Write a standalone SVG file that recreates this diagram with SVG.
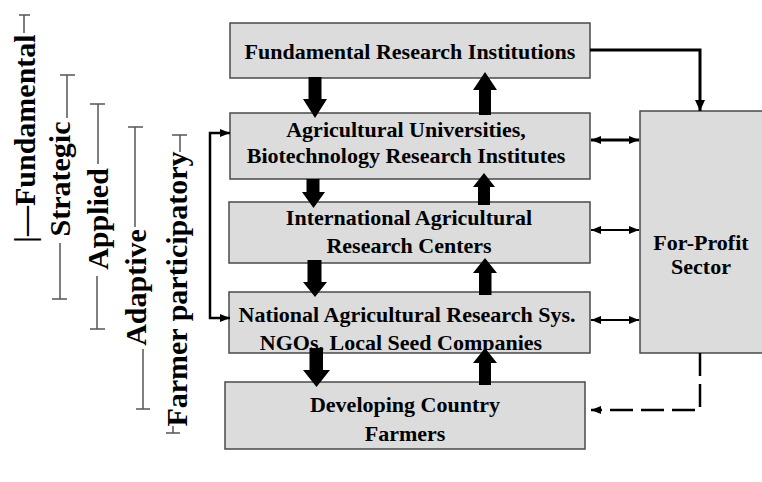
<svg xmlns="http://www.w3.org/2000/svg" width="762" height="482" viewBox="0 0 762 482">
<style>
.box{fill:#dcdcdc;stroke:#4a4a4a;stroke-width:1.5}
.t{font-family:"Liberation Serif","Times New Roman",serif;font-weight:bold;font-size:22px;fill:#000;text-anchor:middle}
.r{font-family:"Liberation Serif","Times New Roman",serif;font-weight:bold;font-size:30px;fill:#000;text-anchor:middle}
.thin{stroke:#555;stroke-width:1.5;fill:none}
.c{stroke:#000;fill:none}
.blk{fill:#000}
</style>
<defs>
<marker id="ah" markerUnits="userSpaceOnUse" markerWidth="12" markerHeight="10" refX="11" refY="5" orient="auto-start-reverse"><path d="M0,0 L11,5 L0,10 z" fill="#000"/></marker>
<marker id="ahs" markerUnits="userSpaceOnUse" markerWidth="11" markerHeight="8" refX="10" refY="4" orient="auto-start-reverse"><path d="M0,0 L10,4 L0,8 z" fill="#000"/></marker>
</defs>

<g id="scale-labels">
<text class="r" transform="translate(35,138.5) rotate(-90)">|—Fundamental</text>
<path class="thin" d="M19,15 H30 M24,15 V33"/>
<text class="r" transform="translate(70,179) rotate(-90)">Strategic</text>
<path class="thin" d="M60,75 H75 M67,75 V118 M60,243 V299 M52,299 H67"/>
<text class="r" transform="translate(108,219) rotate(-90)">Applied</text>
<path class="thin" d="M90,104 H105 M98,104 V164 M97,276 V329 M90,329 H105"/>
<text class="r" transform="translate(146,287.5) rotate(-90)">Adaptive</text>
<path class="thin" d="M128,127 H143 M135,127 V227 M143,349 V409 M136,409 H150"/>
<text class="r" transform="translate(187,289) rotate(-90)">Farmer participatory</text>
<path class="thin" d="M172,135 H187 M180,135 V152 M166,433 H180 M173,426 V433"/>
</g>

<g id="fundamental">
<rect class="box" x="230" y="23" width="360" height="55"/>
<text class="t" x="410" y="59">Fundamental Research Institutions</text>
</g>
<g id="universities">
<rect class="box" x="230" y="113" width="360" height="66"/>
<text class="t" x="406" y="137">Agricultural Universities,</text>
<text class="t" x="406" y="163">Biotechnology Research Institutes</text>
</g>
<g id="iarc">
<rect class="box" x="229" y="202" width="361" height="61"/>
<text class="t" x="409" y="225">International Agricultural</text>
<text class="t" x="409" y="253">Research Centers</text>
</g>
<g id="nars">
<rect class="box" x="229" y="292" width="361" height="61"/>
<text class="t" x="407" y="322">National Agricultural Research Sys.</text>
<text class="t" x="401" y="350">NGOs, Local Seed Companies</text>
</g>
<g id="farmers">
<rect class="box" x="225" y="382" width="360" height="67"/>
<text class="t" x="405" y="412">Developing Country</text>
<text class="t" x="405" y="441">Farmers</text>
</g>
<g id="forprofit">
<rect class="box" x="640" y="111" width="140" height="242"/>
<text class="t" x="701" y="250">For-Profit</text>
<text class="t" x="701" y="274">Sector</text>
</g>

<g id="connectors">
<polygon class="blk" points="308.5,77 321.5,77 321.5,99 327,99 315,118 303,99 308.5,99"/>
<polygon class="blk" points="479,115 491,115 491,90 497,90 485,72 473,90 479,90"/>
<polygon class="blk" points="306.5,179 319.5,179 319.5,192 325,192 313.5,208 302,192 306.5,192"/>
<polygon class="blk" points="478,205 490,205 490,187 495,187 484,173 473,187 478,187"/>
<polygon class="blk" points="307.5,260 321.5,260 321.5,282 327,282 315,297 303,282 307.5,282"/>
<polygon class="blk" points="479,295 491.5,295 491.5,273 497,273 485,258 473,273 479,273"/>
<polygon class="blk" points="309.5,348 323,348 323,370 330,370 316.5,387 303,370 309.5,370"/>
<polygon class="blk" points="479,385 491,385 491,363 497,363 485,348 473,363 479,363"/>

<path class="c" stroke-width="3" d="M590,50 H700 V111" marker-end="url(#ah)"/>
<path class="c" stroke-width="3" d="M591,140 H639" marker-start="url(#ahs)" marker-end="url(#ahs)"/>
<path class="c" stroke-width="2" d="M591,230 H639" marker-start="url(#ahs)" marker-end="url(#ahs)"/>
<path class="c" stroke-width="2" d="M591,320 H639" marker-start="url(#ahs)" marker-end="url(#ahs)"/>
<path class="c" stroke-width="2.5" stroke-dasharray="23 8" d="M700,353 V410 H591" marker-end="url(#ahs)"/>
<path class="c" stroke-width="2.5" d="M230,133 H210 V318 H230" marker-start="url(#ahs)" marker-end="url(#ahs)"/>
</g>
</svg>
